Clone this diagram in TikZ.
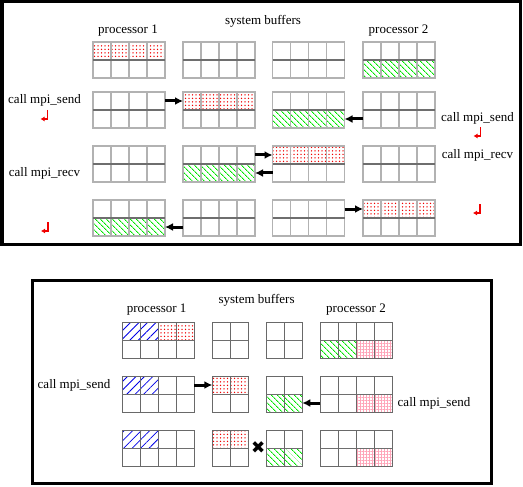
\documentclass[tikz,border=0pt]{standalone}
\usepackage{fontspec}
\setmainfont{Liberation Serif}
\newfontfamily\symfont{DejaVu Sans}
\usetikzlibrary{arrows.meta,patterns.meta}
\definecolor{fillred}{RGB}{240,0,0}
\definecolor{fillgreen}{RGB}{0,230,0}
\definecolor{fillblue}{RGB}{0,0,230}
\definecolor{fillpink}{RGB}{255,165,185}
\newcommand{\membuf}[4]{\node[bufnode,minimum width=#4] (#1) at (#2,#3) {};}
\newcommand{\bufcells}[3]{%
  \foreach \c in {1,...,#2}
    \draw[#3] ([xshift=\c*18pt-18pt]#1.north west) rectangle ++(18,36);
  \draw[#3,midline] (#1.west) -- (#1.east);}

\begin{document}
\begin{tikzpicture}[
        x=1pt,y=-1pt,
        font=\fontsize{13}{15}\selectfont,
        bufnode/.style={rectangle,anchor=north west,minimum height=36pt,inner sep=0pt,outer sep=0pt},
        upcell/.style={draw={rgb,255:red,178;green,178;blue,178},line width=1.6pt},
        lowcell/.style={draw={rgb,255:red,105;green,105;blue,105},line width=1pt},
        midline/.style={draw={rgb,255:red,110;green,110;blue,110}},
        reddots/.style={pattern={Dots[distance=3.5pt,radius=0.75pt]},pattern color=fillred},
        greenlines/.style={pattern={Lines[angle=-45,distance=4pt,line width=0.9pt]},pattern color=fillgreen},
        bluelines/.style={pattern={Lines[angle=45,distance=6pt,line width=0.8pt]},pattern color=fillblue},
        pinkgrid/.style={pattern={Hatch[angle=0,distance=3pt,line width=0.7pt]},pattern color=fillpink},
        xfer/.style={-{Latex[length=8pt,width=8pt]},line width=3pt},
        ret/.style={fillred,line width=1.3pt,-{Latex[length=4pt,width=5pt]}},
        frame/.style={line width=3pt},
        lbl/.style={anchor=base,inner sep=0pt}
      ]
      \useasboundingbox (0,0) rectangle (523,487);
      \draw[frame] (2,1.5) rectangle (520.5,244.5);
      \draw[frame] (32,280.5) rectangle (491,483);
      \foreach \r/\y in {1/42,2/92,3/146,4/200}{
        \membuf{pa\r}{93}{\y}{72pt}
        \membuf{ba\r}{183}{\y}{72pt}
        \membuf{bb\r}{272.5}{\y}{72pt}
        \membuf{pb\r}{363}{\y}{72pt}
      }
      \foreach \r/\y in {5/322,6/376,7/430}{
        \membuf{pa\r}{122.3}{\y}{72pt}
        \membuf{ba\r}{212.3}{\y}{36pt}
        \membuf{bb\r}{266.3}{\y}{36pt}
        \membuf{pb\r}{320.3}{\y}{72pt}
      }
      \fill[reddots] (pa1.north west) rectangle (pa1.east);
      \fill[greenlines] (pb1.west) rectangle (pb1.south east);
      \fill[reddots] (ba2.north west) rectangle (ba2.east);
      \fill[greenlines] (bb2.west) rectangle (bb2.south east);
      \fill[greenlines] (ba3.west) rectangle (ba3.south east);
      \fill[reddots] (bb3.north west) rectangle (bb3.east);
      \fill[greenlines] (pa4.west) rectangle (pa4.south east);
      \fill[reddots] (pb4.north west) rectangle (pb4.east);
      \fill[reddots] (pa5.north) rectangle (pa5.east);
      \fill[greenlines] (pb5.west) rectangle (pb5.south);
      \foreach \r in {5,6,7}{
        \fill[bluelines] (pa\r.north west) rectangle (pa\r.center);
        \fill[pinkgrid] (pb\r.center) rectangle (pb\r.south east);
      }
      \foreach \r in {6,7}{
        \fill[reddots] (ba\r.north west) rectangle (ba\r.east);
        \fill[greenlines] (bb\r.west) rectangle (bb\r.south east);
      }
      \foreach \r in {1,...,4}{
        \bufcells{pa\r}{4}{upcell}
        \bufcells{ba\r}{4}{upcell}
        \bufcells{bb\r}{4}{upcell}
        \bufcells{pb\r}{4}{upcell}
      }
      \foreach \r in {5,6,7}{
        \bufcells{pa\r}{4}{lowcell}
        \bufcells{ba\r}{2}{lowcell}
        \bufcells{bb\r}{2}{lowcell}
        \bufcells{pb\r}{4}{lowcell}
      }
      \draw[xfer] ([yshift=9pt]pa2.east) -- ([yshift=9pt]ba2.west);
      \draw[xfer] ([yshift=-9pt]pb2.west) -- ([yshift=-9pt]bb2.east);
      \draw[xfer] ([yshift=9pt]ba3.east) -- ([yshift=9pt]bb3.west);
      \draw[xfer] ([yshift=-9pt]bb3.west) -- ([yshift=-9pt]ba3.east);
      \draw[xfer] ([yshift=-9pt]ba4.west) -- ([yshift=-9pt]pa4.east);
      \draw[xfer] ([yshift=9pt]bb4.east) -- ([yshift=9pt]pb4.west);
      \draw[xfer] ([yshift=9pt]pa6.east) -- ([yshift=9pt]ba6.west);
      \draw[xfer] ([yshift=-9pt]pb6.west) -- ([yshift=-9pt]bb6.east);
      \node[lbl] (proc1) at (128,33.3) {processor 1};
      \node[lbl] (sysbuf) at (263,24.3) {system buffers};
      \node[lbl] (proc2) at (398.5,33.3) {processor 2};
      \node[lbl] (send1) at (44.5,104) {call mpi\_send};
      \node[lbl] (send2) at (477.5,121.7) {call mpi\_send};
      \node[lbl] (recv1) at (44.5,176.7) {call mpi\_recv};
      \node[lbl] (recv2) at (477.5,158.3) {call mpi\_recv};
      \coordinate (ret1) at (47.5,110);
      \coordinate (ret2) at (480.5,127);
      \coordinate (ret3) at (48,222);
      \coordinate (ret4) at (480,204);
      \foreach \k in {1,...,4}
        \draw[ret] (ret\k) -- ++(0,9) -- ++(-7,0);
      \node[lbl] (lproc1) at (156.7,312.7) {processor 1};
      \node[lbl] (lsysbuf) at (256.6,303.3) {system buffers};
      \node[lbl] (lproc2) at (356,312.7) {processor 2};
      \node[lbl] (lsend1) at (74,388.3) {call mpi\_send};
      \node[lbl] (lsend2) at (434,406.7) {call mpi\_send};
      \node[font=\symfont\fontsize{17}{17}\selectfont,inner sep=0pt] (nogo) at (258.3,447.3) {✖};
    \end{tikzpicture}
\end{document}
